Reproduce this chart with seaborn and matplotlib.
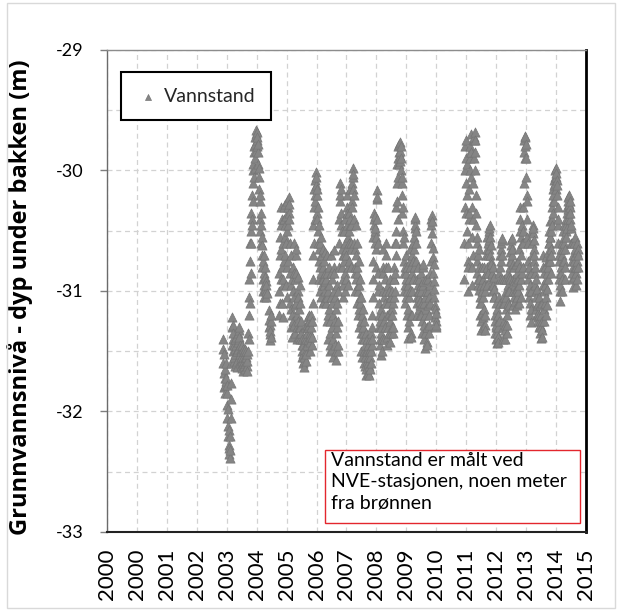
import numpy as np
import pandas as pd
import matplotlib
matplotlib.use("Agg")
import matplotlib.pyplot as plt
from matplotlib.patches import Rectangle
from matplotlib.ticker import MultipleLocator
import seaborn as sns

# Groundwater readings, twice a week, as depth below ground in cm.
# Each run of readings starts at the given decimal year.
readings_per_year = 104

start_2003 = 2003.87
depth_2003 = [3140, 3148, 3160, 3152, 3168, 3180, 3172, 3185, 3178, 3165, 3175,
              3160, 3172, 3185, 3178, 3195, 3205, 3198, 3212, 3220, 3215, 3228, 3235, 3230, 3239, 3232,
              3220, 3205, 3190, 3176, 3160, 3145,
              3130, 3122, 3128, 3140, 3135, 3150, 3145, 3158]

start_2004a = 2004.25
depth_2004a = [3155, 3162, 3148, 3140, 3152, 3160, 3145, 3138, 3150, 3158,
               3163, 3150, 3142, 3135, 3148, 3140, 3132, 3130, 3138, 3145,
               3152, 3160, 3148, 3155, 3162, 3150, 3145, 3158, 3164, 3155,
               3148, 3160, 3166, 3158, 3150, 3162, 3155, 3148, 3160, 3165,
               3158, 3150, 3155, 3162, 3166, 3158, 3152]

start_2004b = 2004.71
depth_2004b = [3150, 3135, 3120, 3140, 3105, 3090, 3110, 3075, 3060, 3085, 3050, 3035, 3060, 3040,
               3020, 3045, 3010, 3000, 3025, 2995, 2980,
               3005, 2985, 2998, 2978, 2990, 2972, 2984, 2970, 2966, 2975, 2968, 2980, 2972,
               2985, 2995, 2978, 3005, 3015, 2998, 3025, 3040, 3020, 3050, 3035, 3060, 3045, 3070, 3055,
               3080, 3062, 3090, 3075, 3100, 3085, 3070, 3095, 3105, 3088, 3098, 3080, 3092, 3100,
               3105, 3095, 3102]

start_2005a = 2005.40
depth_2005a = [3116, 3124, 3130, 3136, 3128, 3141, 3133, 3138, 3125, 3120]

start_2005b = 2005.74
depth_2005b = [3120, 3100, 3085, 3110, 3070, 3055, 3090, 3045, 3030, 3065, 3040,
               3080, 3110, 3095, 3122, 3090, 3060, 3075, 3040, 3030, 3055, 3028, 3045, 3070, 3095,
               3060, 3038, 3025, 3050, 3080, 3105,
               3075, 3045, 3030, 3022, 3035, 3028, 3040, 3060, 3085, 3110, 3130, 3115, 3095, 3070,
               3090, 3120, 3138, 3125, 3100, 3080, 3060, 3085, 3105, 3128, 3135, 3112, 3090,
               3070, 3065, 3085, 3110, 3130, 3140, 3120, 3100, 3088, 3105, 3125, 3138, 3130, 3115,
               3095, 3110, 3130, 3140, 3135, 3125,
               3135, 3145, 3150, 3140, 3155, 3160, 3152, 3145, 3158, 3163, 3155, 3148, 3140, 3130,
               3138, 3150, 3158, 3152, 3140, 3128, 3135, 3145, 3130, 3122,
               3130, 3140, 3128, 3120, 3125, 3135, 3142, 3150, 3138, 3125, 3120, 3130, 3145, 3138,
               3125, 3110, 3090]

start_2006 = 2006.885
depth_2006 = [3070, 3045, 3060, 3030, 3015, 3040, 3020, 3008, 3025, 3001, 3012, 3005, 3020, 3035, 3015,
              3040, 3060, 3030, 3050, 3075, 3045, 3065, 3090, 3060, 3080, 3100, 3070, 3055, 3085, 3105,
              3090, 3070, 3095, 3110, 3080, 3065, 3090, 3108, 3095, 3075, 3100, 3085, 3068, 3092, 3105, 3110,
              3090, 3070, 3085, 3105, 3125, 3140, 3120, 3100, 3080, 3095, 3115, 3135, 3150, 3145, 3125,
              3105, 3085, 3070, 3090, 3110, 3130, 3148, 3155, 3140, 3120, 3100, 3080, 3066, 3085, 3105,
              3125, 3145, 3157, 3150, 3135, 3115, 3095, 3110, 3130, 3150, 3145, 3125, 3100, 3080, 3060,
              3040, 3025]

start_2007 = 2007.79
depth_2007 = [3010, 3020, 3035, 3015, 3045, 3065, 3050, 3080, 3095, 3070, 3105,
              3090, 3070, 3050, 3075, 3100, 3085, 3060, 3040, 3065, 3090, 3070, 3045, 3030, 3020, 3035,
              3055, 3080, 3095, 3075, 3050, 3035, 3060, 3045,
              3015, 3040, 3060, 3080, 3065, 3045, 3025, 3010, 3030, 3005, 2998, 3015, 3003, 3020, 3040,
              3060, 3085, 3100,
              3080, 3065, 3045, 3070, 3090, 3110, 3085, 3060, 3080, 3100, 3120, 3095, 3075, 3095, 3115,
              3130, 3105, 3090, 3110, 3135, 3150, 3125, 3105, 3120, 3140, 3155, 3135, 3115, 3130, 3150,
              3160, 3140, 3125, 3145, 3162, 3155, 3135, 3150, 3165, 3170, 3150, 3140, 3158, 3168, 3160,
              3145, 3155, 3170, 3162,
              3150, 3140, 3155, 3165, 3148, 3135, 3150, 3160, 3145, 3130, 3140, 3120, 3105, 3090]

start_2008 = 2008.89
depth_2008 = [3075, 3055, 3040, 3035, 3045, 3038, 3050, 3060, 3048,
              3065, 3080, 3055, 3024, 3016, 3022,
              3040, 3060, 3085, 3100, 3120, 3095, 3110, 3130, 3145, 3125, 3140, 3153, 3135, 3115, 3130, 3150,
              3140, 3120, 3100, 3080, 3065, 3085, 3105, 3125, 3140, 3130, 3110, 3090, 3070, 3060, 3080,
              3100, 3120, 3138, 3145, 3130, 3110, 3095, 3080, 3100, 3118, 3135, 3142, 3125, 3105, 3090,
              3105, 3120, 3135, 3130, 3115, 3100, 3120, 3135, 3130, 3110, 3090]

start_2009 = 2009.58
depth_2009 = [3090, 3105, 3080, 3060, 3085, 3100,
              3070, 3050, 3030, 3060, 3010, 2995, 3025, 3040, 2990, 2980, 3005, 2985, 2995, 2978, 2988,
              2976, 2984, 2992, 2980, 3000, 2990, 3010,
              3020, 3005, 3035, 3050, 3030, 3060, 3075, 3055, 3085, 3100, 3080, 3095, 3110, 3090,
              3070, 3085, 3105, 3120, 3100, 3080, 3095, 3115, 3130, 3139, 3125, 3105, 3090, 3075,
              3065, 3080, 3100, 3120, 3135, 3138, 3120, 3100, 3085, 3070, 3060, 3075, 3090, 3080,
              3065, 3055, 3048, 3040, 3045, 3039, 3050, 3060, 3075, 3090, 3105, 3120, 3110, 3095,
              3080, 3100, 3115, 3105, 3090, 3100, 3112, 3120, 3108, 3095,
              3085, 3100, 3120, 3135, 3125, 3110, 3095, 3080, 3078, 3092, 3110, 3128, 3140, 3147,
              3135, 3120, 3105, 3090, 3100, 3115, 3130, 3142, 3145, 3130, 3112, 3100, 3090, 3105,
              3120, 3135, 3128, 3110, 3095, 3085, 3075,
              3060, 3045, 3040, 3037, 3042, 3052, 3064, 3072, 3085, 3078, 3092, 3105, 3098, 3112,
              3122, 3115, 3125, 3130, 3118, 3128]

start_2011 = 2011.93
depth_2011 = [3090, 3060, 3030, 3000, 2980, 2975, 2990, 3010, 3035, 3020, 2995, 3050, 3075, 3100,
              3080, 3060, 3040, 3035, 3015, 2990, 2985,
              3000, 2980, 2970, 2985, 3005, 3030, 3055, 3080, 3095, 3070, 3040, 3010, 2990, 2975,
              2972, 2968, 2975,
              2985, 3000, 3020, 3045, 3035, 3060, 3075, 3055, 3085, 3095, 3070, 3090, 3099, 3080,
              3065, 3090, 3105, 3110,
              3120, 3132, 3125, 3110, 3095, 3080, 3100, 3118, 3130, 3122, 3105, 3090, 3080, 3095,
              3115, 3128, 3132, 3120, 3100, 3085, 3070, 3085, 3095, 3080, 3065, 3055, 3070, 3085,
              3060, 3050, 3065, 3048, 3058, 3045, 3055, 3070, 3062, 3075, 3088, 3078, 3095, 3085,
              3100, 3090, 3080, 3095, 3105, 3098, 3088]

start_2012 = 2012.94
depth_2012 = [3105, 3120, 3135, 3125, 3110, 3130, 3140, 3128, 3115, 3135, 3143, 3130, 3120, 3138,
              3142, 3125,
              3105, 3085, 3070, 3090, 3110, 3080, 3065, 3060, 3075, 3058, 3056, 3070, 3090, 3110, 3130,
              3140, 3125, 3105, 3090, 3110, 3128, 3140, 3132, 3115, 3100, 3090, 3105, 3120, 3135,
              3128, 3110, 3095, 3085, 3100, 3112, 3100, 3088, 3075, 3090, 3080,
              3068, 3075, 3062, 3058, 3070, 3056, 3065, 3078, 3090, 3100, 3112, 3105, 3092, 3080,
              3095, 3108, 3115, 3100, 3088, 3078, 3092, 3105, 3112,
              3098, 3085, 3075, 3090, 3100, 3110, 3095, 3080, 3065, 3050, 3040, 3030, 3055, 3070,
              3090, 3105, 3085, 3060, 3045, 3030, 3060, 3080, 3050]

start_2013 = 2013.92
depth_2013 = [3010, 2985, 2975, 2990, 2972, 2980, 2971, 2978, 2990, 3005, 3020, 3040, 3025, 3055,
              3075, 3060, 3090, 3105, 3085, 3100, 3080,
              3095, 3110, 3120, 3126, 3115, 3100, 3085, 3070, 3060, 3050, 3045, 3052, 3048, 3058,
              3065, 3075, 3070, 3085, 3095, 3080, 3090,
              3100, 3115, 3105, 3120, 3112, 3098, 3110, 3122, 3125, 3118, 3105, 3120, 3130, 3125,
              3112, 3128, 3135, 3139, 3130, 3120, 3132, 3138, 3125, 3110,
              3095, 3080, 3070, 3085, 3100, 3115, 3125, 3110, 3095, 3080, 3072, 3090, 3105, 3120,
              3112, 3098, 3085, 3075, 3068, 3080, 3090, 3075, 3060, 3050, 3042, 3055]

start_2014 = 2014.78
depth_2014 = [3060, 3075, 3055, 3070, 3085, 3065, 3050, 3070,
              3040, 3030, 3045, 3025, 3015, 3035, 3020, 3008, 3012, 3025, 3005, 3000, 3010, 2998,
              3005, 3015, 3002, 3008, 3020, 3012, 3030,
              3045, 3060, 3040, 3075, 3090, 3070, 3085, 3100, 3108, 3095, 3080, 3065, 3085, 3100,
              3090, 3070, 3060, 3075, 3050, 3065, 3055, 3045,
              3060, 3075, 3090, 3080, 3065, 3050, 3040, 3055, 3045, 3035, 3048, 3030, 3025, 3040,
              3032, 3022, 3035, 3028, 3020, 3030, 3040, 3025, 3035, 3048, 3060, 3045,
              3060, 3075, 3090, 3085, 3097, 3080, 3070, 3060, 3075, 3088, 3080, 3065, 3055, 3070,
              3085, 3095, 3080, 3068, 3060, 3075, 3090, 3080, 3065, 3070]

runs = [
    (start_2003, depth_2003), (start_2004a, depth_2004a), (start_2004b, depth_2004b),
    (start_2005a, depth_2005a), (start_2005b, depth_2005b), (start_2006, depth_2006),
    (start_2007, depth_2007), (start_2008, depth_2008), (start_2009, depth_2009),
    (start_2011, depth_2011), (start_2012, depth_2012), (start_2013, depth_2013),
    (start_2014, depth_2014),
]

# Date axis: one major tick per 365 days, labelled with the calendar year of the tick
tick_positions = list(range(2000, 2017))
tick_labels = ["2000", "2000", "2001", "2002", "2003", "2004", "2005", "2006", "2007",
               "2008", "2009", "2010", "2011", "2012", "2013", "2014", "2015"]
y_ticks = [-33, -32, -31, -30, -29]
y_tick_labels = ["-33", "-32", "-31", "-30", "-29"]

series_name = "Vannstand"
y_title = "Grunnvannsnivå - dyp under bakken (m)"
note = "Vannstand er målt ved\nNVE-stasjonen, noen meter\nfra brønnen"


def run_frame(start, depth):
    depth = np.asarray(depth, dtype=float)
    t = start + np.arange(len(depth)) / readings_per_year
    return pd.DataFrame({"year": t, "level": -depth / 100.0})


df = pd.concat([run_frame(s, d) for s, d in runs], ignore_index=True)

sns.set_theme(style="white")
plt.rcParams["font.family"] = ["Lato", "DejaVu Sans"]
plt.rcParams["axes.unicode_minus"] = False

fig = plt.figure(figsize=(6.22, 6.11), dpi=100)
ax = fig.add_axes([0.172, 0.1293, 0.7701, 0.7889])

sns.scatterplot(data=df, x="year", y="level", marker="^", s=44,
                color="#858585", edgecolor="#767676", linewidth=0.5,
                label=series_name, ax=ax, zorder=3)

ax.set_xlim(tick_positions[0], tick_positions[-1])
ax.set_ylim(y_ticks[0], y_ticks[-1])
ax.set_xticks(tick_positions)
ax.set_xticklabels(tick_labels, rotation=90, fontsize=16, color="black")
ax.set_yticks(y_ticks)
ax.set_yticklabels(y_tick_labels, fontsize=13, color="black")
ax.yaxis.set_minor_locator(MultipleLocator(0.5))

grid_style = dict(color="#d2d2d2", linestyle=(0, (4, 3)), linewidth=0.9)
ax.set_axisbelow(True)
ax.grid(True, which="major", axis="x", **grid_style)
ax.grid(True, which="both", axis="y", **grid_style)

ax.tick_params(axis="x", which="both", length=0, pad=12)
ax.tick_params(axis="y", which="major", length=5, width=1, color="#7f7f7f", pad=12, left=True)
ax.tick_params(axis="y", which="minor", length=0)

ax.set_xlabel("")
ax.set_ylabel(y_title, fontsize=17, fontweight="bold", color="black",
              family=["Open Sans", "DejaVu Sans"])
ax.yaxis.set_label_coords(-0.154, 0.488)

ax.spines["left"].set_color("#6b6b6b")
ax.spines["left"].set_linewidth(1.0)
ax.spines["top"].set_color("#8c8c8c")
ax.spines["top"].set_linewidth(1.0)
ax.spines["right"].set_color("black")
ax.spines["right"].set_linewidth(2.0)
ax.spines["bottom"].set_color("#222222")
ax.spines["bottom"].set_linewidth(1.5)

leg = ax.legend(loc="upper left", bbox_to_anchor=(0.029, 0.954), fontsize=14,
                frameon=True, fancybox=False, framealpha=1, edgecolor="black",
                borderpad=0.8, handlelength=1.2, handletextpad=0.2, markerscale=0.65,
                borderaxespad=0)
leg.get_frame().set_linewidth(1.5)

ax.add_patch(Rectangle((0.455, 0.0187), 0.532, 0.151, transform=ax.transAxes,
                       facecolor="white", edgecolor="#e3262d", linewidth=1.0, zorder=5))
ax.text(0.4676, 0.166, note, transform=ax.transAxes, ha="left", va="top",
        fontsize=14, linespacing=1.3, color="black", zorder=6)

fig.patches.append(Rectangle((0.0113, 0.0049), 0.9775, 0.990, transform=fig.transFigure,
                             fill=False, edgecolor="#d9d9d9", linewidth=1.0))

fig.savefig("out.png", dpi=100)
